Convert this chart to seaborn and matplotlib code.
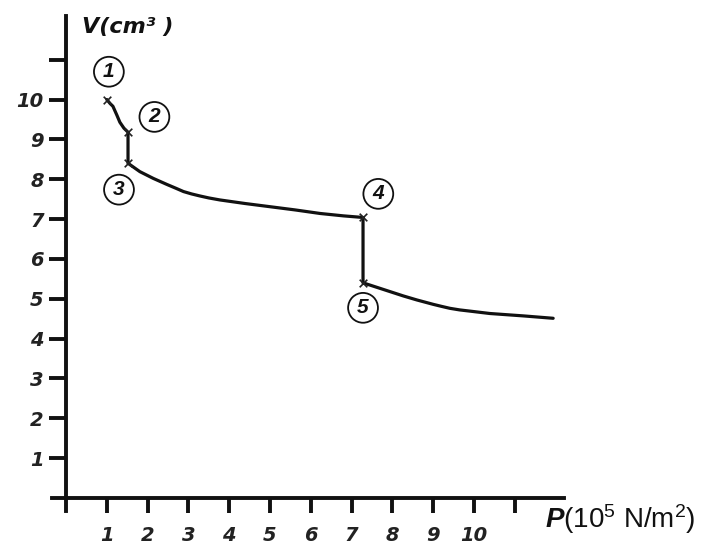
import numpy as np
import pandas as pd
import matplotlib
matplotlib.use("Agg")
import matplotlib.pyplot as plt
import seaborn as sns

# state points 1..5 (P in 1e5 N/m^2, V in cm^3)
state_labels = ["1", "2", "3", "4", "5"]
state_p = [1.0, 1.52, 1.52, 7.28, 7.28]
state_v = [10.0, 9.18, 8.40, 7.04, 5.40]

# path segments
p_12 = [1.0, 1.08, 1.15, 1.25, 1.32, 1.42, 1.52]
v_12 = [10.0, 9.90, 9.83, 9.60, 9.43, 9.28, 9.18]
p_23 = [1.52, 1.52]
v_23 = [9.18, 8.40]
p_34 = [1.52, 1.81, 2.14, 2.47, 2.70, 2.88, 3.08, 3.28, 3.50, 3.77, 4.39, 5.0, 5.61, 6.23, 6.80, 7.28]
v_34 = [8.40, 8.19, 8.02, 7.87, 7.77, 7.69, 7.63, 7.58, 7.53, 7.48, 7.39, 7.31, 7.23, 7.14, 7.08, 7.04]
p_45 = [7.28, 7.28]
v_45 = [7.04, 5.40]
p_5e = [7.28, 7.61, 7.94, 8.27, 8.6, 9.0, 9.2, 9.41, 9.65, 9.90, 10.39, 11.21, 11.94]
v_5e = [5.40, 5.29, 5.18, 5.07, 4.97, 4.86, 4.81, 4.76, 4.72, 4.69, 4.63, 4.57, 4.51]

ticks = [1, 2, 3, 4, 5, 6, 7, 8, 9, 10, 11]
tick_labels = ["1", "2", "3", "4", "5", "6", "7", "8", "9", "10", ""]

path = pd.DataFrame({
    "P": p_12 + p_23 + p_34 + p_45 + p_5e,
    "V": v_12 + v_23 + v_34 + v_45 + v_5e,
})
states = pd.DataFrame({"P": state_p, "V": state_v, "label": state_labels})

sns.set_style("white")
plt.rcParams["font.family"] = ["Liberation Sans", "DejaVu Sans"]
plt.rcParams["mathtext.fontset"] = "custom"
plt.rcParams["mathtext.rm"] = "Liberation Sans"
plt.rcParams["mathtext.bf"] = "Liberation Sans:bold:italic"
plt.rcParams["mathtext.default"] = "regular"

fig = plt.figure(figsize=(7.02, 5.45), dpi=100)
ax = fig.add_axes([0, 0, 1, 1])
ax.set_xlim(-1.6176, 15.588)
ax.set_ylim(-1.179, 12.497)

sns.lineplot(data=path, x="P", y="V", sort=False, estimator=None,
             color="#111111", lw=2.3, ax=ax)
sns.scatterplot(data=states, x="P", y="V", marker="x", color="#222222",
                s=30, linewidth=1.2, ax=ax, zorder=3)

# circled state numbers, offsets in points from each state
offsets = [(1.5, 20), (19, 11), (-6.5, -19), (11, 17), (0, -18)]
for (_, row), off in zip(states.iterrows(), offsets):
    ax.annotate(row["label"], (row["P"], row["V"]), xytext=off,
                textcoords="offset points", ha="center", va="center",
                fontsize=15, fontweight="bold", fontstyle="italic", color="#111111",
                bbox=dict(boxstyle="circle,pad=0.26", fc="white", ec="#111111", lw=1.3))

# axes through the origin
for side in ["top", "right"]:
    ax.spines[side].set_visible(False)
ax.spines["left"].set_position(("data", 0))
ax.spines["bottom"].set_position(("data", 0))
ax.spines["left"].set_bounds(-0.33, 12.1)
ax.spines["bottom"].set_bounds(-0.34, 12.2)
for side in ["left", "bottom"]:
    ax.spines[side].set_linewidth(2.8)
    ax.spines[side].set_color("#111111")

ax.set_xticks(ticks)
ax.set_xticklabels(tick_labels)
ax.set_yticks(ticks)
ax.set_yticklabels(tick_labels)
ax.tick_params(axis="x", bottom=True, direction="out", length=11, width=2.8, pad=9.5, color="#111111")
ax.tick_params(axis="y", left=True, direction="out", length=12, width=2.8, pad=4, color="#111111")
for lab in ax.get_xticklabels() + ax.get_yticklabels():
    lab.set_fontfamily(["DejaVu Sans"])
    lab.set_fontsize(14)
    lab.set_fontweight("bold")
    lab.set_fontstyle("italic")
    lab.set_color("#222222")

ax.set_xlabel("")
ax.set_ylabel("")
ax.text(0.39, 11.67, "V(cm³ )", fontsize=16, fontweight="bold", fontstyle="italic",
        family=["DejaVu Sans"], ha="left", va="baseline", color="#111111")
ax.text(11.74, -0.75, r"$\mathbf{P}$(10$^5$ N/m$^2$)", fontsize=20,
        ha="left", va="baseline", color="#111111")

fig.savefig("out.png", dpi=100)
